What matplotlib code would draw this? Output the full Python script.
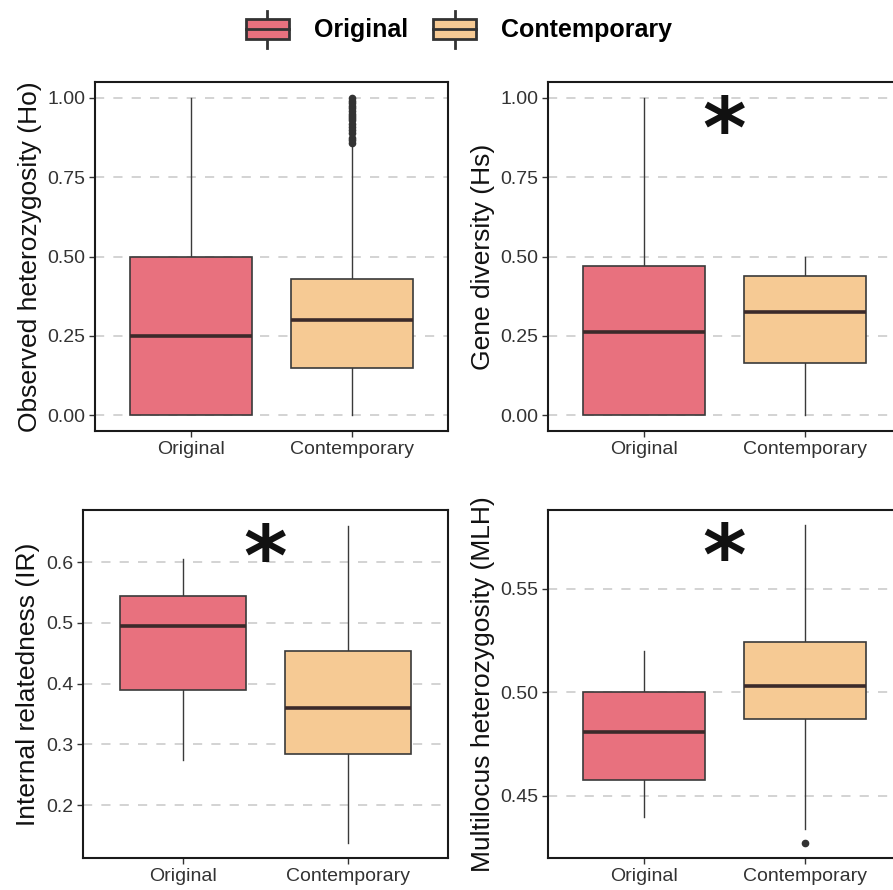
import matplotlib
matplotlib.use("Agg")
import matplotlib.pyplot as plt
from matplotlib.patches import Rectangle
from matplotlib.lines import Line2D
from matplotlib.legend_handler import HandlerBase

plt.rcParams['font.family'] = ['Liberation Sans', 'DejaVu Sans']

groups = ['Original', 'Contemporary']
colors = ['#E8717E', '#F6CA94']

# box stats: [lower whisker, Q1, median, Q3, upper whisker]
ho_stats = [[0.0, 0.0, 0.25, 0.50, 1.00],
            [0.0, 0.15, 0.30, 0.428, 0.845]]
ho_fliers = [[],
             [0.857, 0.867, 0.875, 0.889, 0.9, 0.909, 0.917, 0.929, 0.938,
              0.944, 0.95, 0.958, 0.967, 0.975, 0.983, 0.99, 1.0]]
hs_stats = [[0.0, 0.0, 0.263, 0.469, 1.0],
            [0.0, 0.163, 0.326, 0.437, 0.50]]
ir_stats = [[0.274, 0.389, 0.495, 0.544, 0.605],
            [0.138, 0.285, 0.360, 0.454, 0.659]]
mlh_stats = [[0.4394, 0.4574, 0.481, 0.500, 0.520],
             [0.4337, 0.4873, 0.503, 0.5245, 0.5808]]
mlh_fliers = [[], [0.4273]]

panels = [
    dict(stats=ho_stats, fliers=ho_fliers, ylabel='Observed heterozygosity (Ho)',
         ylim=(-0.05, 1.05), ticks=[0, 0.25, 0.5, 0.75, 1.0], fmt='{:.2f}', star=None,
         pos=[95, 82, 448, 431]),
    dict(stats=hs_stats, fliers=[[], []], ylabel='Gene diversity (Hs)',
         ylim=(-0.05, 1.05), ticks=[0, 0.25, 0.5, 0.75, 1.0], fmt='{:.2f}', star=0.95,
         pos=[548, 82, 901, 431]),
    dict(stats=ir_stats, fliers=[[], []], ylabel='Internal relatedness (IR)',
         ylim=(0.113, 0.686), ticks=[0.2, 0.3, 0.4, 0.5, 0.6], fmt='{:.1f}', star=0.634,
         pos=[83, 510, 448, 858]),
    dict(stats=mlh_stats, fliers=mlh_fliers, ylabel='Multilocus heterozygosity (MLH)',
         ylim=(0.4198, 0.5882), ticks=[0.45, 0.50, 0.55], fmt='{:.2f}', star=0.573,
         pos=[548, 510, 901, 858]),
]

W, H = 893, 890
fig = plt.figure(figsize=(W / 100, H / 100), dpi=100)

edge = '#3a3a3a'
for p in panels:
    l, t, r, b = p['pos']
    ax = fig.add_axes([l / W, 1 - b / H, (r - l) / W, (b - t) / H])
    bxp_stats = []
    for g, s, fl in zip(groups, p['stats'], p['fliers']):
        bxp_stats.append(dict(label=g, whislo=s[0], q1=s[1], med=s[2], q3=s[3],
                              whishi=s[4], fliers=fl))
    bp = ax.bxp(bxp_stats, positions=[1, 2], widths=0.76, patch_artist=True,
                showcaps=False,
                boxprops=dict(edgecolor=edge, linewidth=1.2),
                whiskerprops=dict(color=edge, linewidth=1.0),
                medianprops=dict(color='#3b2a2a', linewidth=2.6),
                flierprops=dict(marker='o', markerfacecolor='#333333',
                                markeredgecolor='#333333', markersize=4.5))
    for patch, c in zip(bp['boxes'], colors):
        patch.set_facecolor(c)
    for w in bp['whiskers']:
        w.set_zorder(1)
    ax.set_xlim(0.4, 2.6)
    ax.set_ylim(*p['ylim'])
    ax.set_yticks(p['ticks'])
    ax.set_yticklabels([p['fmt'].format(v) for v in p['ticks']])
    ax.set_xticks([1, 2])
    ax.set_xticklabels(groups)
    ax.yaxis.grid(True, linestyle=(0, (6, 6)), color='#c8c8c8', linewidth=1.1)
    ax.set_axisbelow(True)
    for sp in ax.spines.values():
        sp.set_linewidth(1.5)
        sp.set_color('#1a1a1a')
    ax.tick_params(axis='both', labelsize=14, colors='#333333', length=4, width=1, pad=3)
    ax.set_ylabel(p['ylabel'], fontsize=19, color='#111111', labelpad=4)
    if p['star'] is not None:
        # the asterisk glyph sits high in its text box, so shift it down
        ax.annotate('*', xy=(1.5, p['star']), xytext=(0, -14), textcoords='offset points',
                    fontsize=60, fontweight='bold', ha='center', va='center',
                    color='#111111', family=['DejaVu Sans'])


class BoxHandler(HandlerBase):
    def create_artists(self, legend, orig_handle, xdescent, ydescent, width, height,
                       fontsize, trans):
        fc = orig_handle.get_facecolor()
        x0 = -xdescent
        bh = height * 0.55
        y0 = -ydescent + (height - bh) / 2
        rect = Rectangle((x0, y0), width, bh, facecolor=fc, edgecolor='#333333',
                         lw=2, transform=trans)
        mid = Line2D([x0, x0 + width], [y0 + bh / 2] * 2, color='#333333', lw=2,
                     transform=trans)
        top = Line2D([x0 + width / 2] * 2, [y0 + bh, -ydescent + height],
                     color='#333333', lw=2, transform=trans)
        bot = Line2D([x0 + width / 2] * 2, [-ydescent, y0], color='#333333', lw=2,
                     transform=trans)
        return [top, bot, rect, mid]


handles = [Rectangle((0, 0), 1, 1, facecolor=c) for c in colors]
fig.legend(handles, groups, loc='center', bbox_to_anchor=(459 / W, 1 - 29 / H),
           ncol=2, frameon=False, prop=dict(size=18, weight='bold'),
           handler_map={Rectangle: BoxHandler()}, handlelength=1.72,
           handleheight=1.9, handletextpad=1.0, columnspacing=1.0)

fig.savefig('out.png', dpi=100)
